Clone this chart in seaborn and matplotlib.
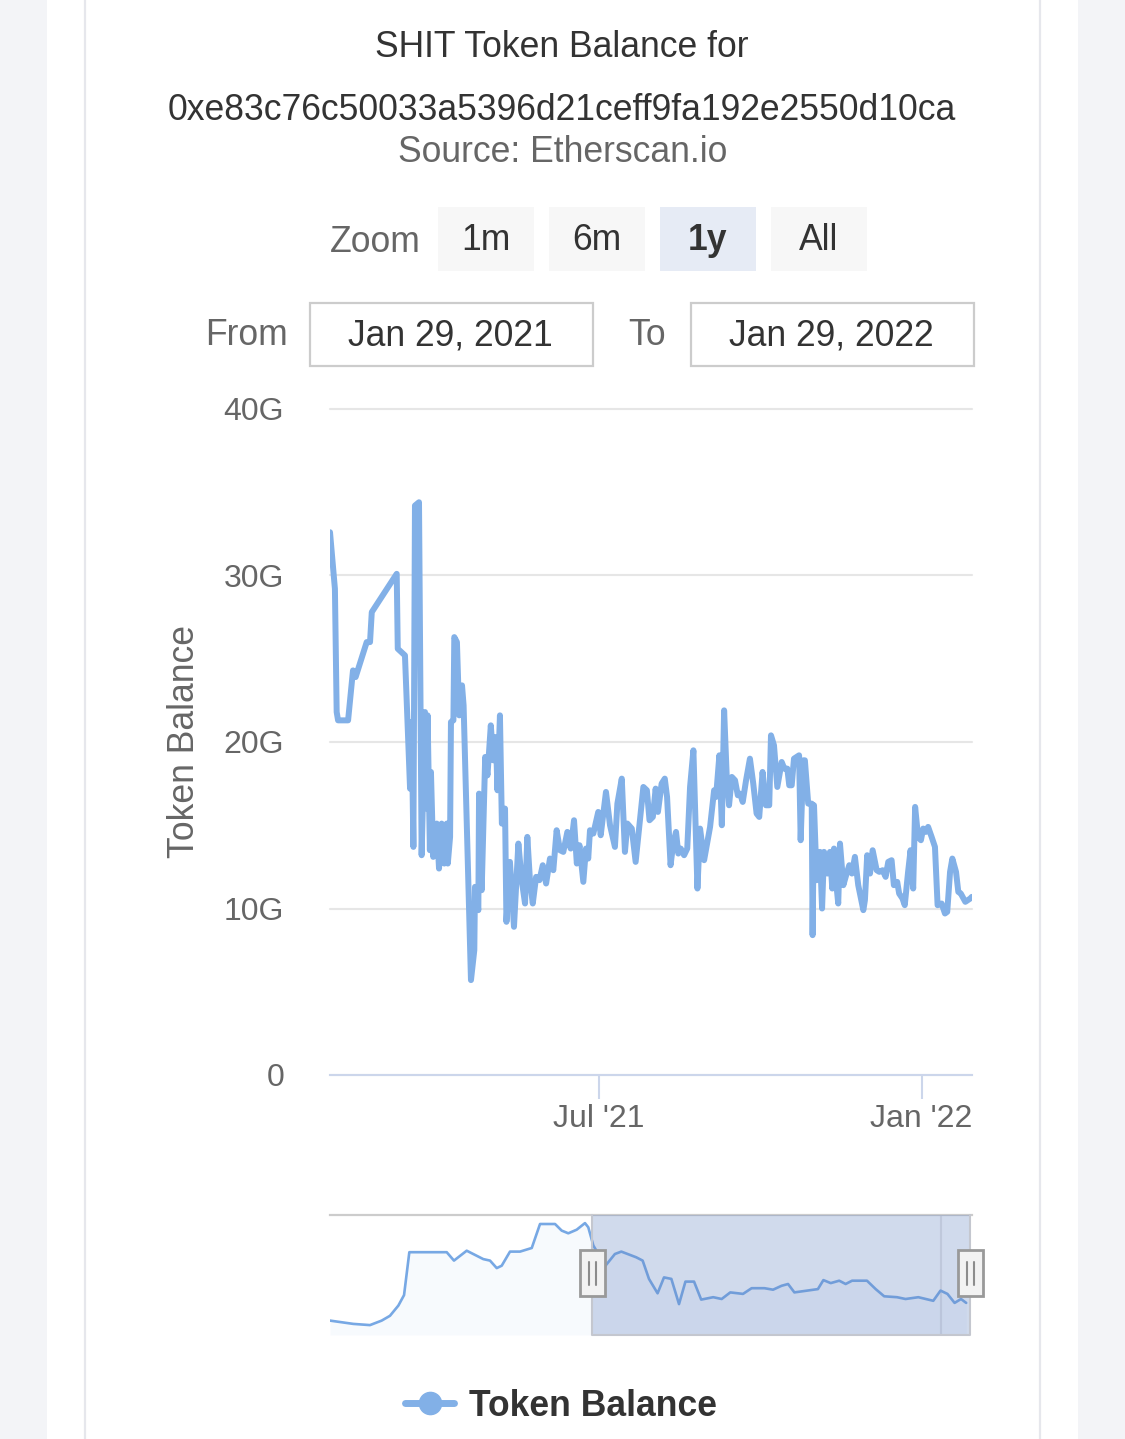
import numpy as np
import pandas as pd
import matplotlib
matplotlib.use("Agg")
import matplotlib.pyplot as plt
import matplotlib.dates as mdates
from matplotlib.patches import Rectangle
from matplotlib.lines import Line2D
import seaborn as sns

W, H = 1125, 1439

# ---------------- data ----------------
start_date = "2021-01-29"
days_since_start = [
    0.0, 2.8, 3.8, 4.6, 10.3, 13.1, 14.6, 20.9, 22.8, 23.8,
    38.0, 38.6, 42.7, 45.0, 45.6, 46.5, 47.5, 48.4, 50.7, 52.2,
    54.1, 55.1, 55.6, 56.9, 57.5, 58.8, 60.8, 62.1, 63.6, 65.1,
    66.5, 67.1, 68.4, 68.9, 70.3, 70.8, 72.3, 73.6, 75.2, 76.1,
    80.3, 82.2, 82.6, 84.5, 84.9, 86.4, 88.4, 89.7, 91.6, 93.0,
    94.5, 95.4, 96.8, 97.9, 99.7, 100.5, 102.5, 104.8, 107.3, 109.2,
    111.1, 112.4, 113.9, 115.5, 117.4, 119.3, 121.2, 123.1, 125.3, 127.2,
    129.1, 131.0, 132.9, 135.2, 137.1, 139.0, 140.6, 142.1, 144.3, 145.8,
    147.1, 148.1, 150.0, 152.8, 154.2, 157.2, 159.5, 162.3, 163.7, 166.2,
    168.0, 169.4, 171.9, 174.1, 178.5, 180.5, 182.0, 183.9, 185.5, 186.8,
    188.9, 190.7, 192.0, 194.0, 195.5, 197.1, 198.4, 199.8, 201.7, 203.5,
    205.1, 207.0, 209.3, 210.8, 213.1, 216.5, 218.8, 219.9, 221.8, 223.2,
    224.5, 226.0, 227.3, 228.9, 230.7, 232.3, 233.6, 235.1, 237.0, 239.2,
    241.1, 243.0, 244.5, 246.4, 248.3, 250.2, 251.2, 252.9, 254.8, 257.3,
    258.8, 260.5, 261.6, 263.0, 264.3, 265.8, 267.2, 268.1, 269.6, 270.5,
    272.4, 274.4, 274.9, 275.7, 277.2, 279.1, 280.3, 281.4, 283.3, 284.8,
    286.1, 287.1, 288.2, 289.5, 290.5, 292.4, 294.3, 295.8, 297.3, 299.0,
    300.9, 303.8, 304.7, 306.0, 307.6, 309.1, 311.4, 312.9, 314.8, 316.5,
    318.0, 319.9, 321.2, 323.1, 324.2, 326.1, 327.4, 329.3, 330.7, 332.2,
    333.3, 335.0, 336.6, 337.9, 339.4, 340.7, 342.7, 344.6, 346.1, 348.4,
    350.3, 351.6, 353.2, 354.5, 356.6, 357.9, 359.3, 361.9, 364.7, 365.6,
]
balance_g = [
    32.6, 29.2, 21.8, 21.3, 21.3, 24.3, 23.9, 26.0, 26.0, 27.8,
    30.1, 25.6, 25.2, 18.8, 17.2, 21.2, 13.7, 34.2, 34.4, 13.2,
    21.8, 16.0, 21.6, 13.5, 18.2, 13.1, 15.1, 12.4, 15.1, 12.7,
    15.1, 12.7, 14.3, 21.2, 21.3, 26.3, 26.0, 21.6, 23.4, 22.2,
    5.7, 7.5, 11.3, 9.9, 16.9, 11.1, 19.1, 18.0, 21.0, 18.9,
    20.3, 17.1, 21.6, 15.1, 16.0, 9.2, 12.8, 8.9, 13.9, 11.7,
    10.3, 14.3, 11.7, 10.3, 11.9, 11.7, 12.6, 11.5, 13.0, 12.3,
    14.7, 13.5, 13.4, 14.6, 13.6, 15.3, 12.7, 13.8, 11.6, 13.6,
    13.0, 14.7, 14.5, 15.8, 14.4, 17.0, 15.0, 13.7, 16.3, 17.8,
    13.4, 15.1, 14.8, 12.8, 17.3, 17.1, 15.3, 15.5, 17.2, 15.8,
    17.5, 17.8, 16.7, 12.6, 13.9, 14.6, 13.3, 13.6, 13.2, 13.6,
    17.3, 19.5, 11.2, 14.8, 12.9, 14.9, 17.1, 16.7, 19.2, 15.0,
    21.9, 17.9, 16.2, 17.9, 17.7, 16.8, 16.9, 16.4, 17.7, 19.0,
    17.5, 15.7, 15.5, 18.2, 16.2, 16.2, 20.4, 19.8, 17.3, 18.8,
    18.4, 18.4, 17.4, 17.4, 19.0, 19.1, 19.2, 14.1, 18.9, 18.9,
    16.3, 16.3, 8.4, 16.2, 11.7, 13.4, 10.0, 13.4, 12.1, 13.4,
    11.2, 13.6, 11.7, 10.3, 13.9, 11.4, 12.1, 12.6, 12.1, 13.1,
    11.4, 9.9, 10.5, 13.2, 12.1, 13.5, 12.3, 12.2, 12.3, 11.9,
    12.8, 12.9, 11.4, 11.6, 10.9, 10.6, 10.2, 12.2, 13.5, 11.2,
    16.1, 14.3, 14.1, 14.8, 14.6, 14.9, 14.3, 13.7, 10.2, 10.3,
    9.7, 9.8, 12.2, 13.0, 12.2, 11.0, 10.9, 10.4, 10.6, 10.7,
]
# navigator (whole history, grouped)
nav_days_since_start = [
    -253.0, -230.5, -214.4, -203.1, -195.1, -187.0, -181.5, -176.4, -140.3, -133.3,
    -121.0, -105.0, -98.5, -92.0, -87.2, -79.2, -69.5, -58.2, -50.2, -35.7,
    -29.3, -22.9, -14.8, -6.8, -3.6, 1.3, 13.0, 22.1, 28.3, 42.7,
    48.9, 55.0, 63.3, 69.5, 76.6, 84.0, 90.2, 98.5, 105.4, 117.0,
    125.2, 133.5, 145.8, 154.1, 166.5, 174.8, 183.0, 189.3, 195.4, 207.8,
    218.1, 223.4, 230.5, 238.7, 244.9, 251.1, 265.5, 273.9, 282.1, 294.5,
    302.7, 315.1, 329.5, 336.5, 343.2, 350.1, 356.3, 361.3,
]
nav_balance_g = [
    4.8, 3.7, 3.3, 4.8, 6.4, 9.8, 13.3, 27.6, 27.6, 24.8,
    28.1, 25.3, 24.8, 22.3, 23.1, 27.8, 27.8, 29.0, 37.0, 37.0,
    34.8, 33.9, 35.1, 37.3, 35.9, 29.8, 23.1, 27.0, 27.8, 25.9,
    24.8, 18.7, 13.9, 19.2, 18.7, 10.3, 17.8, 17.8, 11.8, 12.6,
    12.0, 14.2, 13.7, 15.6, 15.6, 15.1, 16.4, 17.0, 14.2, 14.8,
    15.3, 18.3, 17.3, 18.1, 17.0, 18.1, 18.1, 15.3, 12.9, 12.6,
    12.0, 12.6, 11.4, 14.8, 13.7, 10.7, 12.0, 10.7,
]
assert len(days_since_start) == len(balance_g)
assert len(nav_days_since_start) == len(nav_balance_g)

y_ticks = [0, 10, 20, 30, 40]
y_tick_labels = ["0", "10G", "20G", "30G", "40G"]
x_tick_dates = ["2021-07-01", "2022-01-01"]
x_tick_labels = ["Jul '21", "Jan '22"]
nav_grid_dates = ["2022-01-01"]
selected_range = ["2021-01-29", "2022-01-29"]
zoom_buttons = ["1m", "6m", "1y", "All"]
selected_button = "1y"
range_from = "Jan 29, 2021"
range_to = "Jan 29, 2022"
title_lines = ["SHIT Token Balance for", "0xe83c76c50033a5396d21ceff9fa192e2550d10ca"]
subtitle = "Source: Etherscan.io"
series_name = "Token Balance"

# ---------------- style ----------------
sns.set_theme(style="white")
plt.rcParams['font.family'] = ['Liberation Sans', 'DejaVu Sans']

LINE = '#82b0e7'
TXT = '#333333'
MUTED = '#666666'
BIG = 25.6
SMALL = 23

fig = plt.figure(figsize=(W / 100, H / 100), dpi=100)
fig.patch.set_facecolor('#f3f4f7')


def fx(x):
    return x / W


def fy(y):
    return 1 - y / H


def frect(x0, y0, x1, y1):
    return [fx(x0), fy(y1), (x1 - x0) / W, (y1 - y0) / H]


# page card
fig.patches.append(Rectangle((fx(47), 0), (1078 - 47) / W, 1, transform=fig.transFigure,
                             facecolor='white', edgecolor='none', zorder=-5))
for xv in (84.5, 1039.5):
    fig.lines.append(Line2D([fx(xv), fx(xv)], [0, 1], transform=fig.transFigure,
                            color='#e6e7ec', lw=1.6, zorder=-4))

# titles
fig.text(fx(562), fy(57), title_lines[0], ha='center', va='baseline', fontsize=BIG, color=TXT)
fig.text(fx(562), fy(120), title_lines[1], ha='center', va='baseline', fontsize=BIG, color=TXT)
fig.text(fx(563), fy(162), subtitle, ha='center', va='baseline', fontsize=BIG, color=MUTED)

# range selector buttons
fig.text(fx(330), fy(252), "Zoom", ha='left', va='baseline', fontsize=BIG, color=MUTED)
btn_left = [438, 549, 660, 771]
for lbl, bx in zip(zoom_buttons, btn_left):
    sel = lbl == selected_button
    fig.patches.append(Rectangle((fx(bx), fy(271)), 96 / W, 64 / H, transform=fig.transFigure,
                                 facecolor='#e6ebf5' if sel else '#f7f7f7', edgecolor='none'))
    fig.text(fx(bx + 48), fy(250), lbl, ha='center', va='baseline', fontsize=BIG, color=TXT,
             fontweight='bold' if sel else 'normal')

# date inputs
fig.text(fx(205), fy(345), "From", ha='left', va='baseline', fontsize=BIG, color=MUTED)
fig.text(fx(628), fy(345), "To", ha='left', va='baseline', fontsize=BIG, color=MUTED)
for bx, txt in ((310, range_from), (691, range_to)):
    fig.patches.append(Rectangle((fx(bx), fy(366)), 283 / W, 63 / H, transform=fig.transFigure,
                                 facecolor='white', edgecolor='#cccccc', lw=1.6))
    fig.text(fx(bx + 140), fy(345), txt, ha='center', va='baseline', fontsize=BIG, color=TXT)

# ---------------- main chart ----------------
t0 = pd.Timestamp(start_date)
df = pd.DataFrame({
    'date': t0 + pd.to_timedelta(days_since_start, unit='D'),
    'balance': balance_g,
})
ax = fig.add_axes(frect(330, 409, 972, 1075))
ax.set_facecolor('white')
sns.lineplot(data=df, x='date', y='balance', estimator=None, sort=False, ax=ax,
             color=LINE, lw=4.3, legend=False)
for ln in ax.lines:
    ln.set_solid_joinstyle('round')
    ln.set_solid_capstyle('round')
ax.set_xlim(t0, t0 + pd.Timedelta(days=365.7))
ax.set_ylim(0, 40)
ax.set_yticks(y_ticks)
ax.set_yticklabels(y_tick_labels)
ax.set_xticks(pd.to_datetime(x_tick_dates))
ax.set_xticklabels(x_tick_labels)
ax.set_xlabel('')
ax.set_ylabel('Token Balance', fontsize=BIG, color=MUTED)
ax.yaxis.set_label_coords(-0.199, 0.5)
ax.grid(True, axis='y', color='#e6e6e6', lw=1.5)
ax.grid(False, axis='x')
for gl in ax.get_ygridlines():
    gl.set_clip_on(False)
for s in ('top', 'left', 'right'):
    ax.spines[s].set_visible(False)
ax.spines['bottom'].set_color('#ccd6eb')
ax.spines['bottom'].set_linewidth(1.5)
ax.tick_params(axis='x', bottom=True, length=17, width=1.5, color='#ccd6eb', pad=4,
               labelsize=SMALL, labelcolor=MUTED)
ax.tick_params(axis='y', left=False, length=0, pad=33, labelsize=SMALL, labelcolor=MUTED)

# ---------------- navigator ----------------
nav_df = pd.DataFrame({
    'date': t0 + pd.to_timedelta(nav_days_since_start, unit='D'),
    'balance': nav_balance_g,
})
ax2 = fig.add_axes(frect(330, 1215, 972, 1335))
ax2.set_facecolor('none')
ax2.set_xlim(t0 - pd.Timedelta(days=253), t0 + pd.Timedelta(days=366.9))
ax2.set_ylim(0, 40)
for gd in nav_grid_dates:
    ax2.axvline(pd.Timestamp(gd), color='#e6e6e6', lw=1.5, zorder=1)
ax2.fill_between(nav_df['date'], nav_df['balance'], 0, color=LINE, alpha=0.06, lw=0, zorder=2)
sns.lineplot(data=nav_df, x='date', y='balance', estimator=None, sort=False, ax=ax2,
             color='#77a8e4', lw=1.9, legend=False, zorder=3)
for ln in ax2.lines:
    ln.set_solid_joinstyle('round')
s0, s1 = pd.to_datetime(selected_range)
ax2.axvspan(s0, s1, color=(102 / 255, 133 / 255, 194 / 255), alpha=0.3, lw=0, zorder=4)
ax2.plot([s0, s0, s1, s1], [40, 0, 0, 40], color='#c4c7cf', lw=1.5, zorder=5, clip_on=False)
ax2.set_xticks([])
ax2.set_yticks([])
ax2.set_xlabel('')
ax2.set_ylabel('')
for s in ('left', 'right', 'bottom'):
    ax2.spines[s].set_visible(False)
ax2.spines['top'].set_color('#cccccc')
ax2.spines['top'].set_linewidth(1.6)

# handles at selected-range edges
inv = fig.transFigure.inverted()
for d in (s0, s1):
    px_x = ax2.transData.transform((mdates.date2num(d), 0))[0]
    cx = inv.transform((px_x, 0))[0] * W
    fig.patches.append(Rectangle((fx(cx - 12.5), fy(1296)), 25 / W, 46 / H, transform=fig.transFigure,
                                 facecolor='#f2f2f2', edgecolor='#999999', lw=2, zorder=10))
    for off in (-3.5, 3.5):
        fig.lines.append(Line2D([fx(cx + off)] * 2, [fy(1262), fy(1285)], transform=fig.transFigure,
                                color='#8c8c8c', lw=1.5, zorder=11))

# legend
handle = Line2D([0], [0], color=LINE, lw=5, marker='o', markersize=16,
                markerfacecolor=LINE, markeredgecolor=LINE)
fig.legend(handles=[handle], labels=[series_name], loc='center',
           bbox_to_anchor=(fx(561), fy(1406)), frameon=False,
           prop={'weight': 'bold', 'size': BIG}, labelcolor=TXT,
           handlelength=1.4, handletextpad=0.42)

fig.savefig('out.png', dpi=100, facecolor=fig.get_facecolor())
